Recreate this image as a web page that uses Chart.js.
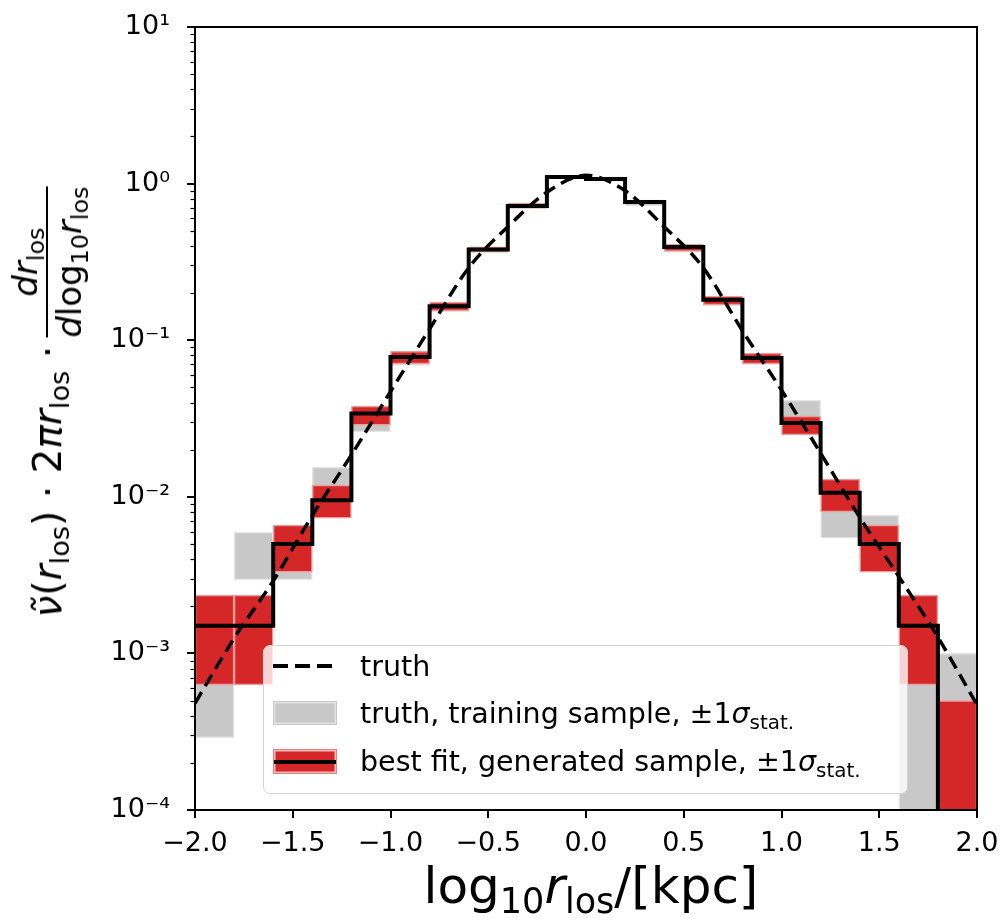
<!DOCTYPE html>
<html>
<head>
<meta charset="utf-8">
<script src="https://cdn.jsdelivr.net/npm/chart.js@4.4.1/dist/chart.umd.min.js"></script>
<style>
  body { margin: 0; background: #fff; font-family: "DejaVu Sans", sans-serif; color: #000; }
  #wrap { position: relative; width: 1004px; height: 923px; overflow: hidden; }
  sub { font-size: 70%; vertical-align: -0.28em; line-height: 0; }
  i { font-style: italic; }

  #ylabel {
    position: absolute; left: 47px; top: 402px;
    transform: translate(-50%, -50%) rotate(-90deg);
    display: flex; align-items: center; white-space: nowrap;
    font-size: 39px; line-height: 1;
  }
  #ylabel .frac { display: inline-flex; flex-direction: column; font-size: 34px; margin-left: 8px; }
  #ylabel .num { text-align: center; border-bottom: 2px solid #000; padding-bottom: 4px; }
  #ylabel .den { text-align: center; padding-top: 4px; }

  #xlabel {
    position: absolute; left: 591px; top: 886px;
    transform: translate(-50%, -50%);
    font-size: 50px; line-height: 1; white-space: nowrap;
  }

  #legend {
    position: absolute; left: 263px; top: 645px; width: 645px; height: 149px;
    box-sizing: border-box; background: rgba(255,255,255,0.8);
    border: 1.5px solid #d4d4d4; border-radius: 7px; font-size: 28.5px;
  }
  #legend .row { position: absolute; left: 9px; height: 40px; display: flex; align-items: center; white-space: nowrap; }
  #legend .handle { position: relative; width: 64px; margin-right: 23px; }
  .h-dash { height: 4px; background: repeating-linear-gradient(to right, #000 0 15px, transparent 15px 22px); }
  .h-gray { height: 24px; box-sizing: border-box; background: #c8c8c8; border: 1.5px solid #c8c8c8; box-shadow: inset 0 0 0 1.5px #e2e2e2; }
  .h-red { height: 25px; box-sizing: border-box; background: #d62728; border: 1.5px solid #e8807f; box-shadow: inset 0 0 0 1.5px #f3b9b9; }
  .h-red::after { content: ""; position: absolute; left: 0; right: 0; top: 10.5px; height: 4px; background: #000; }
</style>
</head>
<body>
<div id="wrap">
  <canvas id="chart" width="1004" height="923"></canvas>

  <div id="ylabel">
    <span><i>ν̃</i>(<i>r</i><sub>los</sub>) · 2<i>πr</i><sub>los</sub> ·</span>
    <span class="frac">
      <span class="num"><i>dr</i><sub>los</sub></span>
      <span class="den"><i>d</i>log<sub>10</sub><i>r</i><sub>los</sub></span>
    </span>
  </div>

  <div id="xlabel">log<sub>10</sub><i>r</i><sub>los</sub>/[kpc]</div>

  <div id="legend">
    <div class="row" style="top:0px"><div class="handle h-dash"></div><span>truth</span></div>
    <div class="row" style="top:47px"><div class="handle h-gray"></div><span>truth, training sample, ±1<i>σ</i><sub>stat.</sub></span></div>
    <div class="row" style="top:95px"><div class="handle h-red"></div><span>best fit, generated sample, ±1<i>σ</i><sub>stat.</sub></span></div>
  </div>
</div>

<script>
// histogram bins in log10 r_los
const binEdges = [-2.0, -1.8, -1.6, -1.4, -1.2, -1.0, -0.8, -0.6, -0.4, -0.2, 0.0,
                  0.2, 0.4, 0.6, 0.8, 1.0, 1.2, 1.4, 1.6, 1.8, 2.0];

// truth curve
const truthX = [-2.0, -1.8, -1.6, -1.4, -1.2, -1.0, -0.8, -0.6, -0.4, -0.2, 0.0,
                0.2, 0.4, 0.6, 0.8, 1.0, 1.2, 1.4, 1.6, 1.8, 2.0];
const truthY = [4.8e-4, 1.25e-3, 2.9e-3, 7.6e-3, 1.85e-2, 4.7e-2, 0.118, 0.29, 0.53, 0.88, 1.13,
                0.90, 0.53, 0.29, 0.115, 0.048, 0.019, 7.4e-3, 3.1e-3, 1.27e-3, 4.7e-4];

// truth, training sample (+-1 sigma band); 1e-6 = empty bin, below the axis floor
const trainLow  = [2.9e-4, 2.95e-3, 2.95e-3, 9.0e-3, 2.6e-2, 6.9e-2, 0.152, 0.36, 0.69, 1.08,
                   1.05, 0.72, 0.365, 0.166, 0.070, 0.030, 5.45e-3, 4.5e-3, 1e-6, 1e-6];
const trainHigh = [9.0e-4, 5.95e-3, 5.95e-3, 1.55e-2, 3.5e-2, 8.3e-2, 0.172, 0.39, 0.74, 1.12,
                   1.10, 0.77, 0.40, 0.19, 0.082, 0.0415, 9.5e-3, 7.65e-3, 1.6e-3, 1.0e-3];

// best fit, generated sample (+-1 sigma band and central value)
const fitLow   = [6.3e-4, 6.3e-4, 3.3e-3, 7.3e-3, 2.87e-2, 7.05e-2, 0.154, 0.366, 0.698, 1.07,
                  1.04, 0.741, 0.369, 0.168, 0.0705, 0.0248, 8.0e-3, 3.3e-3, 6.3e-4, 1e-6];
const fitHigh  = [2.36e-3, 2.36e-3, 6.6e-3, 1.19e-2, 3.8e-2, 8.5e-2, 0.175, 0.394, 0.751, 1.13,
                  1.10, 0.786, 0.411, 0.191, 0.0828, 0.0328, 1.30e-2, 6.6e-3, 2.36e-3, 5.0e-4];
const fitValue = [1.5e-3, 1.5e-3, 5.0e-3, 9.5e-3, 3.4e-2, 7.8e-2, 0.165, 0.38, 0.72, 1.10,
                  1.07, 0.763, 0.394, 0.181, 0.077, 0.0296, 0.0106, 5.0e-3, 1.5e-3, 1e-6];

// ticks
const xTicks = [-2.0, -1.5, -1.0, -0.5, 0.0, 0.5, 1.0, 1.5, 2.0];
const xTickLabels = ['\u22122.0', '\u22121.5', '\u22121.0', '\u22120.5', '0.0', '0.5', '1.0', '1.5', '2.0'];
const yTicks = [1e-4, 1e-3, 1e-2, 1e-1, 1, 10];
const yTickLabels = ['10\u207b\u2074', '10\u207b\u00b3', '10\u207b\u00b2', '10\u207b\u00b9', '10\u2070', '10\u00b9'];

const FONT = 'DejaVu Sans';
const binCenters = binEdges.slice(0, -1).map((e, i) => (e + binEdges[i + 1]) / 2);

// draw matplotlib style frame + ticks from the chart's scales
const axesFrame = {
  id: 'axesFrame',
  afterDraw(chart) {
    const { ctx, chartArea: a, scales: { x, y } } = chart;
    const seg = (x0, y0, x1, y1) => { ctx.beginPath(); ctx.moveTo(x0, y0); ctx.lineTo(x1, y1); ctx.stroke(); };
    ctx.save();
    ctx.strokeStyle = '#000';
    ctx.lineWidth = 1.2;
    yTicks.slice(0, -1).forEach(d => {
      for (let k = 2; k < 10; k++) {
        const py = Math.round(y.getPixelForValue(d * k)) + 0.5;
        seg(a.left - 4.5, py, a.left, py);
      }
    });
    ctx.lineWidth = 2;
    yTicks.forEach(v => { const py = Math.round(y.getPixelForValue(v)); seg(a.left - 8, py, a.left, py); });
    xTicks.forEach(v => { const px = Math.round(x.getPixelForValue(v)); seg(px, a.bottom, px, a.bottom + 8); });
    ctx.strokeRect(a.left, a.top, a.right - a.left, a.bottom - a.top);
    ctx.restore();
  }
};

const band = (low, high) => binCenters.map((c, i) => ({ x: c, y: [low[i], high[i]] }));
const noOverflow = s => { s.paddingLeft = 0; s.paddingRight = 0; s.paddingTop = 0; s.paddingBottom = 0; };

new Chart(document.getElementById('chart'), {
  type: 'bar',
  data: {
    datasets: [
      {
        type: 'line', label: 'truth', order: 0,
        data: truthX.map((v, i) => ({ x: v, y: truthY[i] })),
        borderColor: '#000', borderWidth: 3.5, borderDash: [13, 7],
        pointRadius: 0, fill: false, cubicInterpolationMode: 'monotone'
      },
      {
        type: 'line', label: 'best fit', order: 1,
        data: binEdges.map((e, i) => ({ x: e, y: fitValue[Math.min(i, fitValue.length - 1)] })),
        borderColor: '#000', borderWidth: 4, stepped: 'before',
        pointRadius: 0, fill: false
      },
      {
        label: 'best fit band', order: 2, clip: 0,
        data: band(fitLow, fitHigh),
        backgroundColor: '#d62728', borderColor: '#ee9a9a', borderWidth: 1.5, borderSkipped: false,
        barPercentage: 1, categoryPercentage: 1, grouped: false
      },
      {
        label: 'truth band', order: 3, clip: 0,
        data: band(trainLow, trainHigh),
        backgroundColor: '#c8c8c8', borderColor: '#e4e4e4', borderWidth: 1.5, borderSkipped: false,
        barPercentage: 1, categoryPercentage: 1, grouped: false
      }
    ]
  },
  options: {
    responsive: false,
    animation: false,
    layout: { padding: { left: 0, top: 27, right: 27, bottom: 0 } },
    plugins: { legend: { display: false }, tooltip: { enabled: false } },
    scales: {
      x: {
        type: 'linear', min: -2, max: 2, offset: false,
        grid: { display: false, drawTicks: false, offset: false },
        border: { display: false },
        afterBuildTicks: s => { s.ticks = xTicks.map(v => ({ value: v })); },
        afterFit: s => { s.height = 113; noOverflow(s); },
        ticks: {
          font: { family: FONT, size: 27 }, color: '#000', padding: 18,
          maxRotation: 0, minRotation: 0, autoSkip: false,
          callback: (v, i) => xTickLabels[i]
        }
      },
      y: {
        type: 'logarithmic', min: 1e-4, max: 10,
        grid: { display: false, drawTicks: false },
        border: { display: false },
        afterBuildTicks: s => { s.ticks = yTicks.map(v => ({ value: v, major: true })); },
        afterFit: s => { s.width = 195; noOverflow(s); },
        ticks: {
          font: { family: FONT, size: 27 }, color: '#000', padding: 25, autoSkip: false,
          callback: (v, i) => yTickLabels[i]
        }
      }
    }
  },
  plugins: [axesFrame]
});
</script>
</body>
</html>
